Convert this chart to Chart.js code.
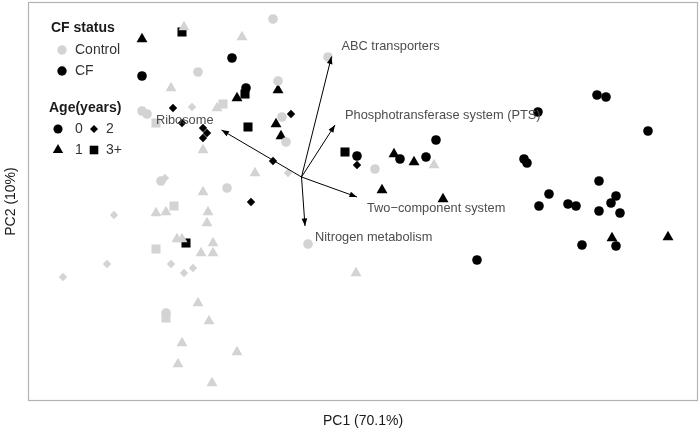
<!DOCTYPE html>
<html>
<head>
<meta charset="utf-8">
<title>PCA biplot</title>
<script src="https://cdn.jsdelivr.net/npm/chart.js@4.4.1/dist/chart.umd.min.js"></script>
<style>
  html, body { margin: 0; padding: 0; background: #fff; }
</style>
</head>
<body>
<canvas id="myChart" width="700" height="433"></canvas>
<script>
// PC scores (PC1 / PC2 units, origin = arrow origin)
// CF samples
var cfAge0X = [-1.39, -3.19, -1.11, 2.69, 1.11, 1.97, 2.49, 5.91, 6.09, 4.73, 6.93, 4.45, 4.51, 5.95, 4.95, 4.75, 5.33, 5.49, 5.95, 6.29, 6.19, 6.37, 6.29, 5.61, 3.51];
var cfAge0Y = [2.38, 2.02, 1.78, 0.74, 0.42, 0.36, 0.40, 1.64, 1.60, 1.30, 0.92, 0.36, 0.28, -0.08, -0.34, -0.58, -0.54, -0.58, -0.68, -0.38, -0.52, -0.72, -1.38, -1.36, -1.66];
var cfAge1X = [-3.19, -0.47, -1.29, -0.51, -0.41, 1.85, 2.25, 1.61, 2.83, 6.21, 7.33];
var cfAge1Y = [2.76, 1.74, 1.58, 1.06, 0.82, 0.46, 0.30, -0.26, -0.44, -1.22, -1.20];
var cfAge2X = [-2.57, -2.39, -1.97, -1.89, -1.97, -0.21, -0.57, -1.01, 1.11];
var cfAge2Y = [1.38, 1.08, 0.98, 0.88, 0.78, 1.26, 0.32, -0.50, 0.24];
var cfAge3X = [-2.39, -1.13, -1.07, 0.87, -2.31];
var cfAge3Y = [2.90, 1.66, 1.00, 0.50, -1.32];

// Control samples
var ctAge0X = [-0.57, -2.07, -0.47, -3.19, -3.09, -0.39, -0.31, -2.81, -1.49, 0.13, 1.47, -2.71, 0.53];
var ctAge0Y = [3.16, 2.10, 1.92, 1.32, 1.26, 1.20, 0.70, -0.08, -0.22, -1.34, 0.16, -2.72, 2.40];
var ctAge1X = [-2.35, -1.19, -2.61, -1.69, -1.97, -0.93, -1.97, -2.91, -2.71, -1.87, -1.89, -2.49, -2.39, -1.77, -2.01, -1.77, -2.07, -1.85, -2.39, -1.29, -2.47, -1.79, 1.09, 2.65];
var ctAge1Y = [3.00, 2.80, 1.78, 1.38, 0.54, 0.08, -0.30, -0.72, -0.70, -0.70, -0.92, -1.24, -1.24, -1.32, -1.52, -1.52, -2.52, -2.88, -3.32, -3.50, -3.74, -4.12, -1.92, 0.24];
var ctAge2X = [-2.19, -0.27, -2.73, -3.75, -3.89, -2.61, -2.35, -2.17, -4.77];
var ctAge2Y = [1.40, 0.08, -0.02, -0.76, -1.74, -1.74, -1.92, -1.82, -2.00];
var ctAge3X = [-1.57, -2.91, -2.55, -2.91, -2.71];
var ctAge3Y = [1.46, 1.08, -0.58, -1.44, -2.82];

// loading arrows
var loadingNames = ['Ribosome', 'ABC transporters', 'Phosphotransferase system (PTS)', 'Two\u2212component system', 'Nitrogen metabolism'];
var loadingX = [-1.60, 0.60, 0.67, 1.11, 0.07];
var loadingY = [0.94, 2.41, 1.04, -0.40, -0.98];

var statusLabels = ['Control', 'CF'];
var ageLabels = ['0', '1', '2', '3+'];

var FONT = '"Liberation Sans", Arial, Helvetica, sans-serif';
var GREY = '#d3d3d3';
var shapes = { '0': ['circle', 4.8], '1': ['triangle', 6.3], '2': ['rectRot', 4.2], '3+': ['rect', 6.4] };

function pts(xs, ys) {
    return xs.map(function (v, i) { return { x: v, y: ys[i] }; });
}

function makeSet(label, age, color, xs, ys) {
    return {
        label: label + ' ' + age,
        data: pts(xs, ys),
        pointStyle: shapes[age][0],
        pointRadius: shapes[age][1],
        pointHoverRadius: shapes[age][1],
        backgroundColor: color,
        borderWidth: 0
    };
}

// first dataset is painted last in Chart.js, so Control goes first (on top)
var datasets = [
    makeSet('Control', '0', GREY, ctAge0X, ctAge0Y),
    makeSet('Control', '1', GREY, ctAge1X, ctAge1Y),
    makeSet('Control', '2', GREY, ctAge2X, ctAge2Y),
    makeSet('Control', '3+', GREY, ctAge3X, ctAge3Y),
    makeSet('CF', '0', '#000', cfAge0X, cfAge0Y),
    makeSet('CF', '1', '#000', cfAge1X, cfAge1Y),
    makeSet('CF', '2', '#000', cfAge2X, cfAge2Y),
    makeSet('CF', '3+', '#000', cfAge3X, cfAge3Y)
];

// panel border
var panelBorder = {
    id: 'panelBorder',
    afterDraw: function (chart) {
        var a = chart.chartArea, ctx = chart.ctx;
        ctx.save();
        ctx.strokeStyle = '#b3b3b3';
        ctx.lineWidth = 1.2;
        ctx.strokeRect(a.left + 0.5, a.top + 0.5, a.right - a.left - 1, a.bottom - a.top - 1);
        ctx.restore();
    }
};

// loading arrows + labels
var loadings = {
    id: 'loadings',
    afterDatasetsDraw: function (chart) {
        var ctx = chart.ctx, sx = chart.scales.x, sy = chart.scales.y;
        var x0 = sx.getPixelForValue(0), y0 = sy.getPixelForValue(0);
        ctx.save();
        loadingNames.forEach(function (name, i) {
            var x1 = sx.getPixelForValue(loadingX[i]);
            var y1 = sy.getPixelForValue(loadingY[i]);
            var ang = Math.atan2(y1 - y0, x1 - x0);
            ctx.strokeStyle = '#000';
            ctx.fillStyle = '#000';
            ctx.lineWidth = 1;
            ctx.beginPath();
            ctx.moveTo(x0, y0);
            ctx.lineTo(x1, y1);
            ctx.stroke();
            var len = 8, spread = 0.36;
            ctx.beginPath();
            ctx.moveTo(x1, y1);
            ctx.lineTo(x1 - len * Math.cos(ang - spread), y1 - len * Math.sin(ang - spread));
            ctx.lineTo(x1 - len * Math.cos(ang + spread), y1 - len * Math.sin(ang + spread));
            ctx.closePath();
            ctx.fill();

            var right = x1 >= x0;
            ctx.font = '12.8px ' + FONT;
            ctx.fillStyle = '#4d4d4d';
            ctx.textBaseline = 'middle';
            ctx.textAlign = right ? 'left' : 'right';
            ctx.fillText(name, x1 + (right ? 10 : -8), y1 + (y1 < y0 ? -10 : 11));
        });
        ctx.restore();
    }
};

// two-block legend in the top left corner
var legendBlocks = {
    id: 'legendBlocks',
    afterDraw: function (chart) {
        var ctx = chart.ctx;
        var draw = Chart.helpers.drawPoint;
        ctx.save();
        ctx.textBaseline = 'middle';
        ctx.textAlign = 'left';

        ctx.font = 'bold 14px ' + FONT;
        ctx.fillStyle = '#1a1a1a';
        ctx.fillText('CF status', 51, 28);
        ctx.fillText('Age(years)', 49, 108);

        ctx.font = '14px ' + FONT;
        ctx.fillStyle = GREY;
        draw(ctx, { pointStyle: 'circle', radius: 4.7, borderWidth: 0 }, 62, 50);
        ctx.fillStyle = '#000';
        draw(ctx, { pointStyle: 'circle', radius: 4.7, borderWidth: 0 }, 62, 71);
        ctx.fillStyle = '#333';
        ctx.fillText(statusLabels[0], 75, 50);
        ctx.fillText(statusLabels[1], 75, 71);

        var cells = [[58, 129], [58, 150], [94, 129], [94, 150]];
        ageLabels.forEach(function (age, i) {
            ctx.fillStyle = '#000';
            draw(ctx, { pointStyle: shapes[age][0], radius: shapes[age][1] * 0.95, borderWidth: 0 }, cells[i][0], cells[i][1]);
            ctx.fillStyle = '#333';
            ctx.fillText(age, cells[i][0] + (i < 2 ? 17 : 12), cells[i][1]);
        });
        ctx.restore();
    }
};

new Chart(document.getElementById('myChart'), {
    type: 'scatter',
    data: { datasets: datasets },
    options: {
        responsive: false,
        animation: false,
        layout: { autoPadding: false, padding: { top: 2, right: 2, left: 0, bottom: 0 } },
        plugins: {
            legend: { display: false },
            tooltip: { enabled: false }
        },
        scales: {
            x: {
                type: 'linear',
                min: -5.47,
                max: 7.93,
                grid: { display: false },
                border: { display: false },
                ticks: { display: false },
                title: { display: true, text: 'PC1 (70.1%)', color: '#1a1a1a', font: { size: 14, family: FONT }, padding: { top: 0, bottom: 3 } },
                afterFit: function (s) { s.height = 32; }
            },
            y: {
                type: 'linear',
                min: -4.48,
                max: 3.50,
                grid: { display: false },
                border: { display: false },
                ticks: { display: false },
                title: { display: true, text: 'PC2 (10%)', color: '#1a1a1a', font: { size: 14, family: FONT }, padding: { top: 3, bottom: 0 } },
                afterFit: function (s) { s.width = 28; }
            }
        }
    },
    plugins: [panelBorder, loadings, legendBlocks]
});
</script>
</body>
</html>
